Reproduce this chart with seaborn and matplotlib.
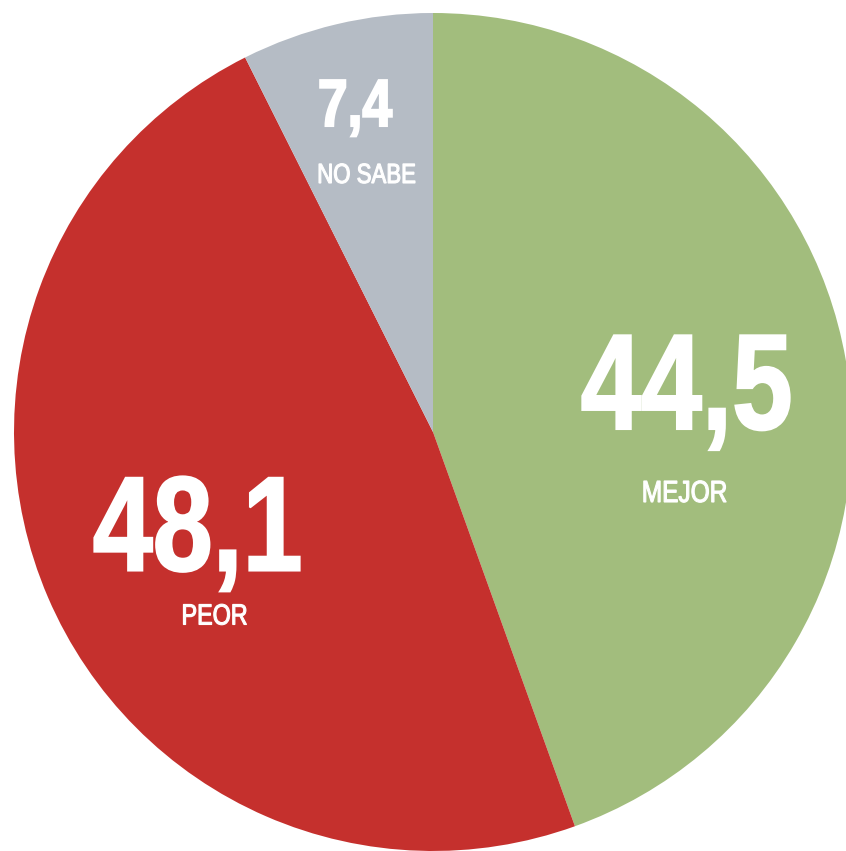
"""Pie chart: opinion split (mejor / peor / no sabe)."""

import matplotlib

matplotlib.use("Agg")

import matplotlib.pyplot as plt
import seaborn as sns
from matplotlib.font_manager import FontProperties
from matplotlib.patches import PathPatch
from matplotlib.textpath import TextPath
from matplotlib.transforms import Affine2D

categories = ["MEJOR", "PEOR", "NO SABE"]
values = [44.5, 48.1, 7.4]
value_labels = ["44,5", "48,1", "7,4"]
colors = ["#A2BD7D", "#C5302D", "#B5BCC5"]

# layout: label centres in pixels (from top-left), cap heights in pixels
value_centres = [(686, 380), (197, 522), (356, 102)]
name_centres = [(685, 491), (215, 614), (367, 173)]
value_caps = [98, 97, 48]
name_caps = [22, 21, 20]

W, H = 846, 851
CX, CY, R = 433, 432, 419
SQUEEZE = 0.8  # the original uses a condensed face


def condensed_text(ax, px, py, text, cap_px, weight, stroke):
    """Draw white text as a horizontally squeezed path, centred on (px, py)."""
    prop = FontProperties(family="Liberation Sans", weight=weight)
    path = TextPath((0, 0), text, size=cap_px / 0.72, prop=prop)
    bb = path.get_extents()
    tr = (
        Affine2D()
        .translate(-(bb.x0 + bb.x1) / 2, -cap_px / 2)
        .scale(SQUEEZE / R, 1 / R)
        .translate((px - CX) / R, (CY - py) / R)
    )
    ax.add_patch(PathPatch(tr.transform_path(path), facecolor="white",
                           edgecolor="white", linewidth=stroke, zorder=5))


sns.set_theme(style="white")
plt.rcParams["font.family"] = ["Liberation Sans", "DejaVu Sans"]

fig = plt.figure(figsize=(W / 100, H / 100), dpi=100)
ax = fig.add_axes([0, 0, 1, 1])
ax.pie(
    values,
    colors=colors,
    startangle=90,
    counterclock=False,
    radius=1,
    wedgeprops={"linewidth": 0},
)
ax.set_xlim(-CX / R, (W - CX) / R)
ax.set_ylim(-(H - CY) / R, CY / R)
ax.set_aspect("equal")
ax.axis("off")

for (px, py), text, cap in zip(value_centres, value_labels, value_caps):
    condensed_text(ax, px, py, text, cap, "bold", 1.5)
for (px, py), text, cap in zip(name_centres, categories, name_caps):
    condensed_text(ax, px, py, text, cap, "normal", 0.8)

fig.savefig("out.png", dpi=100, facecolor="white")
